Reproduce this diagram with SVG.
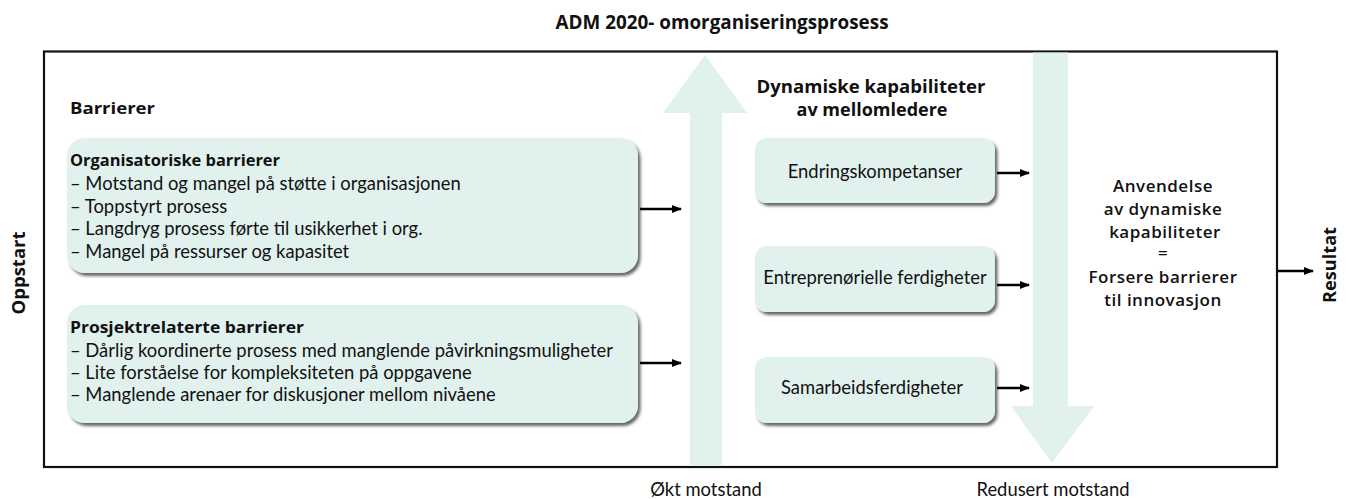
<svg xmlns="http://www.w3.org/2000/svg" width="1352" height="499" viewBox="0 0 1352 499">
  <style>
    .body { font-family: Lato, "Open Sans", "Liberation Sans", sans-serif; font-size: 18.4px; fill: #111; }
    .head { font-family: "Open Sans", "Liberation Sans", sans-serif; font-weight: 700; fill: #111; }
    .box { fill: #e1f1ee; filter: url(#shadow); }
    .band { fill: #e1f1ee; }
    .conn { stroke: #000; stroke-width: 2.5; fill: none; marker-end: url(#arrow); }
  </style>
  <defs>
    <filter id="shadow" x="-5%" y="-10%" width="115%" height="130%">
      <feDropShadow dx="2.5" dy="3" stdDeviation="1.6" flood-color="#000" flood-opacity="0.6"/>
    </filter>
    <marker id="arrow" viewBox="0 0 10 10" refX="9" refY="5" markerWidth="5" markerHeight="4" markerUnits="strokeWidth" orient="auto">
      <path d="M0,1 L10,5 L0,9 Z" fill="#000"/>
    </marker>
  </defs>

  <rect width="1352" height="499" fill="#fff"/>

  <!-- title -->
  <text class="head" x="722" y="29" font-size="20" text-anchor="middle" textLength="333" lengthAdjust="spacingAndGlyphs">ADM 2020- omorganiseringsprosess</text>

  <!-- outer frame -->
  <rect x="44" y="51.5" width="1233" height="415.5" fill="none" stroke="#111" stroke-width="2.2"/>

  <!-- resistance bands -->
  <g id="okt-motstand">
    <path class="band" d="M705,55 L747,113 L722,113 L722,466 L690,466 L690,113 L663,113 Z"/>
  </g>
  <g id="redusert-motstand">
    <path class="band" d="M1033,52.5 L1068,52.5 L1068,406 L1094,406 L1052,463 L1011,406 L1033,406 Z"/>
  </g>

  <!-- side labels -->
  <text class="head" font-size="17" text-anchor="middle" transform="translate(25,273) rotate(-90)" textLength="83" lengthAdjust="spacingAndGlyphs">Oppstart</text>
  <text class="head" font-size="17" text-anchor="middle" transform="translate(1336,265) rotate(-90)" textLength="76" lengthAdjust="spacingAndGlyphs">Resultat</text>

  <!-- barriers -->
  <text class="head" x="70" y="114" font-size="16" textLength="85" lengthAdjust="spacingAndGlyphs">Barrierer</text>

  <g id="organisatoriske-barrierer">
    <rect class="box" x="67" y="138" width="571" height="135" rx="18"/>
    <text class="head" x="70" y="166" font-size="16" textLength="210" lengthAdjust="spacingAndGlyphs">Organisatoriske barrierer</text>
    <text class="body" x="70" y="190">– Motstand og mangel på støtte i organisasjonen</text>
    <text class="body" x="70" y="213">– Toppstyrt prosess</text>
    <text class="body" x="70" y="235">– Langdryg prosess førte til usikkerhet i org.</text>
    <text class="body" x="70" y="258">– Mangel på ressurser og kapasitet</text>
  </g>

  <g id="prosjektrelaterte-barrierer">
    <rect class="box" x="67" y="305" width="571" height="118" rx="18"/>
    <text class="head" x="70" y="333" font-size="16" textLength="234" lengthAdjust="spacingAndGlyphs">Prosjektrelaterte barrierer</text>
    <text class="body" x="70" y="357">– Dårlig koordinerte prosess med manglende påvirkningsmuligheter</text>
    <text class="body" x="70" y="379">– Lite forståelse for kompleksiteten på oppgavene</text>
    <text class="body" x="70" y="401">– Manglende arenaer for diskusjoner mellom nivåene</text>
  </g>

  <!-- capabilities -->
  <text class="head" x="871" y="93" font-size="17" text-anchor="middle" textLength="229" lengthAdjust="spacingAndGlyphs">Dynamiske kapabiliteter</text>
  <text class="head" x="872" y="116" font-size="17" text-anchor="middle" textLength="151" lengthAdjust="spacingAndGlyphs">av mellomledere</text>

  <g id="endringskompetanser">
    <rect class="box" x="755" y="138" width="240" height="65" rx="12"/>
    <text class="body" x="875" y="178" font-size="18.2" text-anchor="middle">Endringskompetanser</text>
  </g>
  <g id="entreprenorielle-ferdigheter">
    <rect class="box" x="755" y="246" width="240" height="66" rx="12"/>
    <text class="body" x="875" y="284" font-size="18.2" text-anchor="middle">Entreprenørielle ferdigheter</text>
  </g>
  <g id="samarbeidsferdigheter">
    <rect class="box" x="755" y="357" width="240" height="66" rx="12"/>
    <text class="body" x="872" y="394" font-size="18.2" text-anchor="middle">Samarbeidsferdigheter</text>
  </g>

  <!-- outcome -->
  <g id="anvendelse" font-family="'Open Sans', 'Liberation Sans', sans-serif" font-size="17" font-weight="600" letter-spacing="0.5" fill="#111" text-anchor="middle">
    <text x="1163" y="192">Anvendelse</text>
    <text x="1163" y="215">av dynamiske</text>
    <text x="1165" y="238">kapabiliteter</text>
    <text x="1163" y="259">=</text>
    <text x="1163" y="283">Forsere barrierer</text>
    <text x="1163" y="306">til innovasjon</text>
  </g>

  <!-- bottom labels -->
  <text class="body" x="706" y="496" font-size="16" text-anchor="middle">Økt motstand</text>
  <text class="body" x="1053" y="496" font-size="16" text-anchor="middle">Redusert motstand</text>

  <!-- connectors -->
  <g id="connectors">
    <line class="conn" x1="640" y1="209" x2="681" y2="209"/>
    <line class="conn" x1="640" y1="363" x2="681" y2="363"/>
    <line class="conn" x1="997" y1="173" x2="1029" y2="173"/>
    <line class="conn" x1="997" y1="285" x2="1029" y2="285"/>
    <line class="conn" x1="997" y1="388" x2="1029" y2="388"/>
    <line class="conn" x1="1278" y1="271" x2="1313" y2="271"/>
  </g>
</svg>
